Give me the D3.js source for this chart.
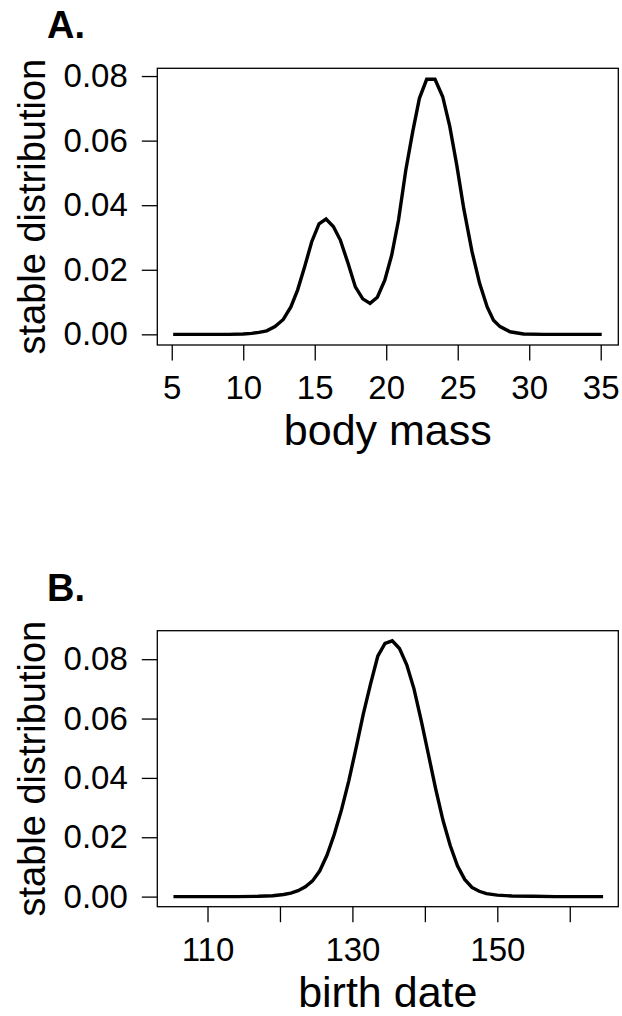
<!DOCTYPE html>
<html>
<head>
<meta charset="utf-8">
<script src="https://cdn.jsdelivr.net/npm/d3@7"></script>
<style>
  html, body { margin: 0; padding: 0; background: #fff; }
  svg text { font-family: "Liberation Sans", Arial, Helvetica, sans-serif; fill: #000; }
</style>
</head>
<body>
<svg width="622" height="1016"></svg>
<script>
// --- data ---
const massX = [5.1, 7, 9, 10, 10.6, 11.1, 11.64, 12.22, 12.8, 13.33, 13.8, 14.3, 14.79, 15.3, 15.79,
  16.3, 16.79, 17.33, 17.84, 18.36, 18.87, 19.38, 19.9, 20.38, 20.86, 21.37, 21.85, 22.32, 22.83,
  23.41, 23.95, 24.44, 24.93, 25.42, 26.0, 26.53, 27.06, 27.5, 27.96, 28.66, 29.6, 31, 33, 35.07];
const massDist = [0, 0, 0, 0.0001, 0.0003, 0.0006, 0.0011, 0.0024, 0.0046, 0.0085, 0.0137, 0.021,
  0.0287, 0.0342, 0.0357, 0.0334, 0.0292, 0.022, 0.0147, 0.011, 0.0096, 0.0115, 0.0168, 0.0245,
  0.0354, 0.0509, 0.0627, 0.0731, 0.079, 0.079, 0.0736, 0.0645, 0.0525, 0.039, 0.0256, 0.0158,
  0.0085, 0.0044, 0.0024, 0.0008, 0.0001, 0, 0, 0];

const dateX = [105.3, 108, 111, 114, 117, 119, 120.5, 121.5, 122.5, 123.5, 124.5, 125.5, 126.5,
  127.5, 128.5, 129.5, 130.5, 131.5, 132.5, 133.5, 134.5, 135.5, 136.5, 137.5, 138.5, 139.5, 140.5,
  141.5, 142.5, 143.5, 144.5, 145.5, 146.5, 147.5, 148.5, 150, 152, 155, 158, 161, 164.6];
const dateDist = [0, 0, 0, 0, 0.0001, 0.0003, 0.0007, 0.0012, 0.002, 0.0033, 0.0053, 0.0087, 0.014,
  0.021, 0.0293, 0.039, 0.05, 0.0615, 0.0716, 0.081, 0.0853, 0.0862, 0.0836, 0.0781, 0.07, 0.0593,
  0.0478, 0.0362, 0.0257, 0.0172, 0.0104, 0.0058, 0.0031, 0.0018, 0.001, 0.0005, 0.0002, 0.0001,
  0, 0, 0];

const distTicks = [0, 0.02, 0.04, 0.06, 0.08];
const massTicks = [5, 10, 15, 20, 25, 30, 35];
const massTickLabels = ["5", "10", "15", "20", "25", "30", "35"];
const dateTicks = [110, 120, 130, 140, 150, 160];
const dateTickLabels = ["110", "", "130", "", "150", ""];

const svg = d3.select("svg");

function drawPanel(p) {
  const x = d3.scaleLinear().domain(p.xDomain).range([157.3, 618.3]);
  const y = d3.scaleLinear().domain(p.yDomain).range([p.bottom, p.top]);
  const g = svg.append("g");

  // panel letter
  g.append("text").attr("x", 47).attr("y", p.top - 30)
    .style("font-size", "38px").style("font-weight", "bold").text(p.letter);

  // x axis (ticks outward, labels below)
  const xAxis = d3.axisBottom(x).tickValues(p.xTicks).tickSize(15.5).tickPadding(15.4)
    .tickFormat((d, i) => p.xTickLabels[i]);
  const gx = g.append("g").attr("transform", `translate(0,${p.bottom})`).call(xAxis);
  gx.select(".domain").remove();
  gx.selectAll("line").attr("stroke", "#000").attr("stroke-width", 1.3);
  gx.selectAll("text").style("font-size", "33px").attr("fill", "#000");

  // y axis
  const yAxis = d3.axisLeft(y).tickValues(distTicks).tickSize(15.5).tickPadding(14)
    .tickFormat(d3.format(".2f"));
  const gy = g.append("g").attr("transform", "translate(157.3,0)").call(yAxis);
  gy.select(".domain").remove();
  gy.selectAll("line").attr("stroke", "#000").attr("stroke-width", 1.3);
  gy.selectAll("text").style("font-size", "33px").attr("fill", "#000");

  // box
  g.append("rect").attr("x", x.range()[0]).attr("y", p.top)
    .attr("width", x.range()[1] - x.range()[0]).attr("height", p.bottom - p.top)
    .attr("fill", "none").attr("stroke", "#000").attr("stroke-width", 1.3);

  // curve
  const pts = p.xs.map((v, i) => [v, p.ys[i]]);
  g.append("path").datum(pts)
    .attr("d", d3.line().x(d => x(d[0])).y(d => y(d[1])))
    .attr("fill", "none").attr("stroke", "#000").attr("stroke-width", 3.4)
    .attr("stroke-linejoin", "miter");

  // axis titles
  g.append("text").attr("x", 387.8).attr("y", p.bottom + 100)
    .attr("text-anchor", "middle").style("font-size", "43px").text(p.xTitle);
  g.append("text").attr("transform", `translate(45,${(p.top + p.bottom) / 2}) rotate(-90)`)
    .attr("text-anchor", "middle").style("font-size", "38px").text("stable distribution");
}

drawPanel({
  letter: "A.", top: 68.3, bottom: 345,
  xDomain: [3.99, 36.23], yDomain: [-0.0033, 0.0824],
  xTicks: massTicks, xTickLabels: massTickLabels,
  xs: massX, ys: massDist, xTitle: "body mass"
});

drawPanel({
  letter: "B.", top: 630.7, bottom: 906.7,
  xDomain: [103.07, 166.7], yDomain: [-0.0034, 0.0896],
  xTicks: dateTicks, xTickLabels: dateTickLabels,
  xs: dateX, ys: dateDist, xTitle: "birth date"
});
</script>
</body>
</html>
